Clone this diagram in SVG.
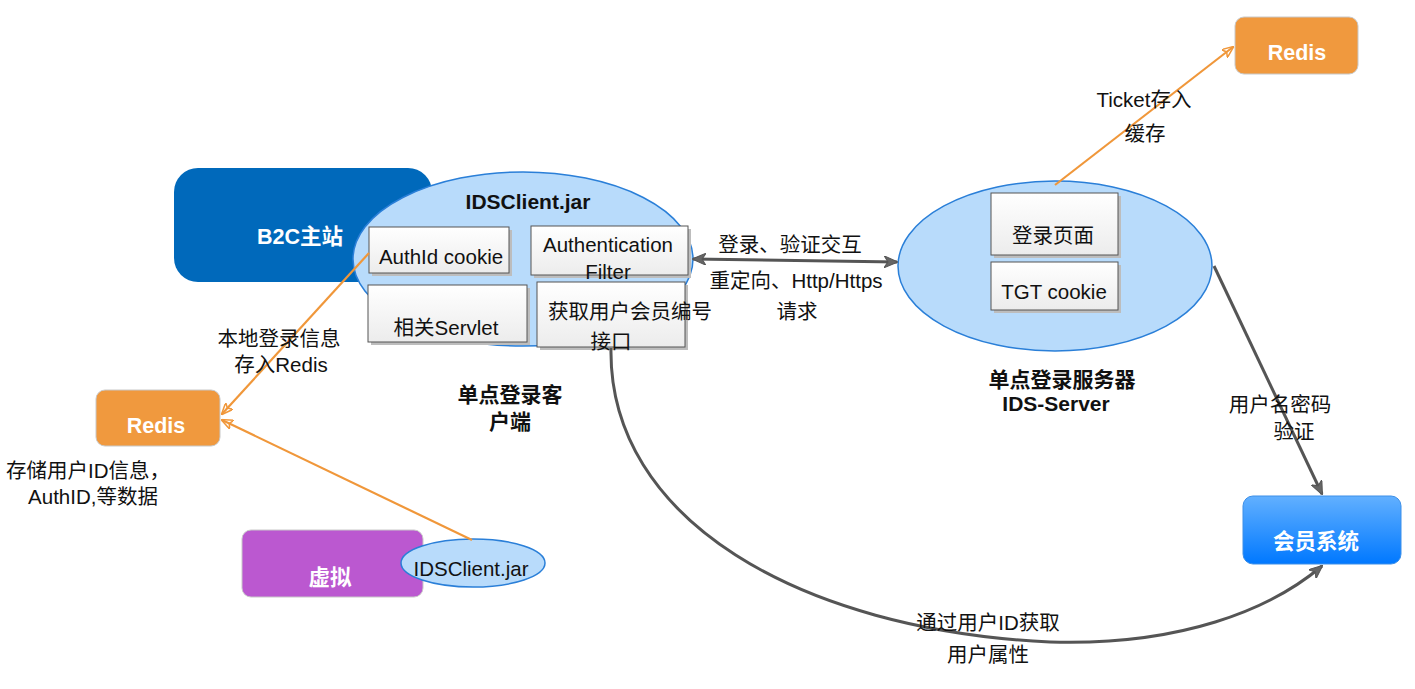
<svg xmlns="http://www.w3.org/2000/svg" width="1415" height="689" viewBox="0 0 1415 689">
<style>
text{font-family:"Liberation Sans","Noto Sans CJK SC",sans-serif;fill:#111;font-size:20.5px;text-anchor:middle}
.w{fill:#fff;font-weight:bold;font-size:21.5px}
.b{font-weight:bold;font-size:21px}
.ell{fill:#B8DBFB;stroke:#2A7FD8;stroke-width:1.5}
.box{fill:url(#gg);stroke:#555;stroke-width:1}
.sh{fill:#BDBDBD}
.or{stroke:#F0973A;stroke-width:2.2;fill:none}
.gr{stroke:#555;stroke-width:3;fill:none}
</style>
<defs>
<linearGradient id="gg" x1="0" y1="0" x2="0" y2="1"><stop offset="0" stop-color="#FFFFFF"/><stop offset="1" stop-color="#ECECEC"/></linearGradient>
<linearGradient id="bg" x1="0" y1="0" x2="0" y2="1"><stop offset="0" stop-color="#62B0FF"/><stop offset="1" stop-color="#0078FF"/></linearGradient>
<marker id="ao" viewBox="0 0 12 10" refX="11" refY="5" markerWidth="12" markerHeight="10" markerUnits="userSpaceOnUse" orient="auto"><path d="M0,0 L12,5 L0,10 L3,5 Z" fill="none" stroke="#F0973A" stroke-width="1.5"/></marker>
<marker id="ag" viewBox="0 0 14 12" refX="13" refY="6" markerWidth="14" markerHeight="12" markerUnits="userSpaceOnUse" orient="auto-start-reverse"><path d="M0,0 L14,6 L0,12 L4,6 Z" fill="#666" stroke="#555" stroke-width="1"/></marker>
</defs>

<g id="b2c"><rect x="174" y="168" width="258" height="114" rx="24" fill="#0069BB"/><text class="w" x="300" y="244">B2C主站</text></g>

<g id="idsclient">
<ellipse class="ell" cx="523" cy="259" rx="170" ry="87"/>
<text class="b" x="528" y="209">IDSClient.jar</text>
</g>
<g id="authid"><rect class="sh" x="372" y="230" width="140" height="46"/><rect class="box" x="369" y="227" width="140" height="46"/><text x="441" y="264">AuthId cookie</text></g>
<g id="authfilter"><rect class="sh" x="534" y="229" width="157" height="49"/><rect class="box" x="531" y="226" width="157" height="49"/><text x="608" y="252">Authentication</text><text x="608" y="279">Filter</text></g>
<g id="servlet"><rect class="sh" x="371" y="288" width="159" height="57"/><rect class="box" x="368" y="285" width="159" height="57"/><text x="446" y="335">相关Servlet</text></g>
<g id="getid"><rect class="sh" x="540" y="285" width="148" height="65"/><rect class="box" x="537" y="282" width="148" height="65"/><text x="630" y="319">获取用户会员编号</text><text x="611" y="349">接口</text></g>
<g id="clientlabel"><text class="b" x="510" y="402">单点登录客</text><text class="b" x="510" y="429">户端</text></g>

<g id="server">
<ellipse class="ell" cx="1055" cy="266" rx="157" ry="85"/>
</g>
<g id="loginpage"><rect class="sh" x="994" y="196" width="127" height="62"/><rect class="box" x="991" y="193" width="127" height="62"/><text x="1053" y="243">登录页面</text></g>
<g id="tgt"><rect class="sh" x="994" y="265" width="127" height="48"/><rect class="box" x="991" y="262" width="127" height="48"/><text x="1054" y="299">TGT cookie</text></g>
<g id="serverlabel"><text class="b" x="1062" y="387">单点登录服务器</text><text class="b" x="1056" y="411">IDS-Server</text></g>

<g id="redis1"><rect x="1235" y="17" width="123" height="57" rx="9" fill="#F0993E" stroke="#C8C8C8"/><text class="w" x="1297" y="60">Redis</text></g>
<g id="redis2"><rect x="96" y="390" width="124" height="56" rx="9" fill="#F0993E" stroke="#C8C8C8"/><text class="w" x="156" y="433">Redis</text></g>
<g id="member"><rect x="1243" y="496" width="158" height="68" rx="10" fill="url(#bg)" stroke="#3C8FE8"/><text class="w" x="1316" y="549">会员系统</text></g>
<g id="virtual"><rect x="242" y="530" width="181" height="67" rx="9" fill="#BB58D0" stroke="#C8C8C8"/><text class="w" x="330" y="585">虚拟</text></g>
<g id="idsclient2"><ellipse class="ell" cx="473" cy="563" rx="72" ry="24"/><text x="471" y="576">IDSClient.jar</text></g>

<g id="connectors">
<line class="gr" x1="693" y1="259" x2="897" y2="262" marker-start="url(#ag)" marker-end="url(#ag)"/>
<line class="or" x1="1055" y1="185" x2="1233" y2="47" marker-end="url(#ao)"/>
<line class="or" x1="369" y1="253" x2="222" y2="414" marker-end="url(#ao)"/>
<line class="or" x1="472" y1="540" x2="222" y2="420" marker-end="url(#ao)"/>
<line class="gr" x1="1214" y1="266" x2="1322" y2="494" marker-end="url(#ag)"/>
<path class="gr" d="M611,348 C608,520 800,630 1050,642 C1180,646 1270,610 1322,566" marker-end="url(#ag)"/>
</g>

<g id="labels">
<text x="790" y="252">登录、验证交互</text>
<text x="796" y="288">重定向、Http/Https</text>
<text x="797" y="319">请求</text>
<text x="1144" y="107">Ticket存入</text>
<text x="1145" y="141">缓存</text>
<text x="279" y="346">本地登录信息</text>
<text x="281" y="372">存入Redis</text>
<text x="88" y="478">存储用户ID信息，</text>
<text x="93" y="504">AuthID,等数据</text>
<text x="1280" y="412">用户名密码</text>
<text x="1294" y="439">验证</text>
<text x="988" y="630">通过用户ID获取</text>
<text x="988" y="662">用户属性</text>
</g>
</svg>
